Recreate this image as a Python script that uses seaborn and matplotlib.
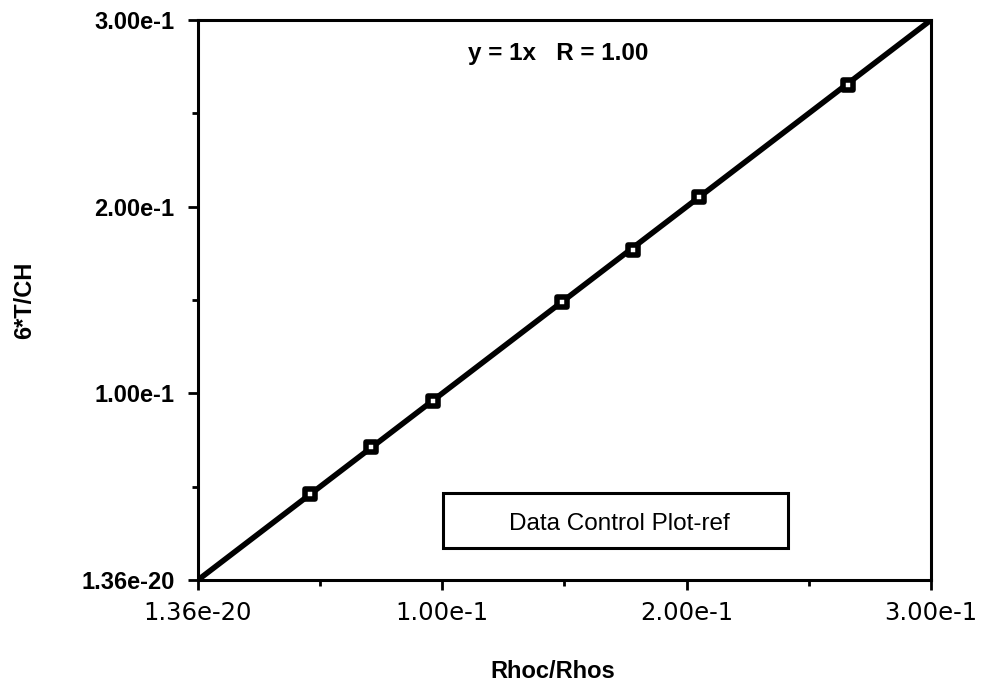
import numpy as np
import pandas as pd
import matplotlib
matplotlib.use("Agg")
import matplotlib.pyplot as plt
import matplotlib.font_manager as fm
import seaborn as sns
from matplotlib.patches import Rectangle

# data
rho_ratio = [0.046, 0.071, 0.096, 0.149, 0.178, 0.205, 0.266]
six_t_ch = [0.046, 0.071, 0.096, 0.149, 0.177, 0.205, 0.265]
fit_x = [0.0, 0.3]
fit_y = [0.0, 0.3]
tick_vals = [0.0, 0.1, 0.2, 0.3]
tick_labels = ["1.36e-20", "1.00e-1", "2.00e-1", "3.00e-1"]
minor_vals = [0.05, 0.15, 0.25]
series_name = "Data Control Plot-ref"
fit_text = "y = 1x   R = 1.00"

sns.set_theme(style="white")
plt.rcParams['font.family'] = ['Liberation Sans', 'DejaVu Sans']
plt.rcParams['text.color'] = 'black'
plt.rcParams['axes.labelcolor'] = 'black'
plt.rcParams['xtick.color'] = 'black'
plt.rcParams['ytick.color'] = 'black'

# pick the regular-width bold face (avoid the Narrow variant)
bold_file = None
for f in fm.findSystemFonts():
    if f.endswith("LiberationSans-Bold.ttf"):
        bold_file = f
        break


def bold(size):
    if bold_file:
        return fm.FontProperties(fname=bold_file, size=size)
    return fm.FontProperties(family="DejaVu Sans", weight="bold", size=size)


df = pd.DataFrame({"x": rho_ratio, "y": six_t_ch})
fit = pd.DataFrame({"x": fit_x, "y": fit_y})

fig = plt.figure(figsize=(9.86, 6.97), dpi=100)
ax = fig.add_axes([0.2008, 0.1679, 0.7434, 0.8034])

# fitted line
sns.lineplot(data=fit, x="x", y="y", color="black", linewidth=4, ax=ax, zorder=2)

# data points
sns.scatterplot(data=df, x="x", y="y", marker="s", s=49,
                facecolor="white", edgecolor="black", linewidth=4,
                ax=ax, zorder=3)

ax.set_xlim(0, 0.3)
ax.set_ylim(0, 0.3)

ax.set_xticks(tick_vals)
ax.set_xticklabels(tick_labels, fontfamily="DejaVu Sans", fontsize=17.5)
ax.set_yticks(tick_vals)
ax.set_yticklabels(tick_labels, fontproperties=bold(17))
ax.set_xticks(minor_vals, minor=True)
ax.set_yticks(minor_vals, minor=True)

ax.tick_params(which="major", direction="out", length=7, width=2,
               color="black", bottom=True, left=True)
ax.tick_params(axis="x", which="major", pad=8)
ax.tick_params(axis="y", which="major", pad=10)
ax.tick_params(which="minor", direction="out", length=4, width=2,
               color="black", bottom=True, left=True)

for sp in ax.spines.values():
    sp.set_visible(True)
    sp.set_color("black")
    sp.set_linewidth(2.2)

ax.set_xlabel("Rhoc/Rhos", fontproperties=bold(17), va="center", ha="center")
ax.set_ylabel("6*T/CH", fontproperties=bold(17), va="center", ha="center")
ax.xaxis.set_label_coords(0.484, -0.164)
ax.yaxis.set_label_coords(-0.236, 0.5)

# fit equation
ax.text(0.491, 0.941, fit_text, transform=ax.transAxes, ha="center",
        va="center", fontproperties=bold(17.5))

# legend box
ax.add_patch(Rectangle((0.334, 0.057), 0.471, 0.098, transform=ax.transAxes,
                       facecolor="white", edgecolor="black", linewidth=2.2, zorder=4))
ax.text(0.575, 0.1, series_name, transform=ax.transAxes, ha="center",
        va="center", fontsize=17.5, zorder=5)

fig.savefig("out.png", dpi=100)
